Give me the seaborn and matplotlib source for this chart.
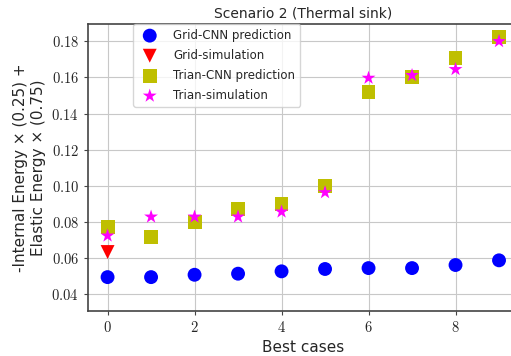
import matplotlib
matplotlib.use("Agg")
import matplotlib.pyplot as plt
import seaborn as sns
from matplotlib.ticker import FuncFormatter

cases = list(range(10))
grid_cnn = [0.0494, 0.0494, 0.0507, 0.0513, 0.0526, 0.0539, 0.0544, 0.0544, 0.0561, 0.0587]
grid_sim_x = [0]
grid_sim = [0.0633]
trian_cnn = [0.0773, 0.0718, 0.0799, 0.0869, 0.0900, 0.0998, 0.1517, 0.1602, 0.1706, 0.1822]
trian_sim = [0.0723, 0.0828, 0.0828, 0.0828, 0.0856, 0.0963, 0.1597, 0.1612, 0.1645, 0.1800]

sns.set_style("whitegrid", {"grid.color": "#c8c8c8", "axes.edgecolor": "#444444"})
plt.rcParams["font.family"] = ["DejaVu Sans"]
plt.rcParams["mathtext.fontset"] = "cm"

fig = plt.figure(figsize=(5.11, 3.56), dpi=100)
ax = fig.add_axes([88/511, 1 - 310.7/356, (518.6 - 88)/511, (310.7 - 24)/356])

sns.scatterplot(x=cases, y=grid_cnn, ax=ax, color="blue", marker="o", s=100,
                edgecolor="none", label="Grid-CNN prediction")
sns.scatterplot(x=grid_sim_x, y=grid_sim, ax=ax, color="red", marker="v", s=100,
                edgecolor="none", label="Grid-simulation")
sns.scatterplot(x=cases, y=trian_cnn, ax=ax, color="#bfbf00", marker="s", s=100,
                edgecolor="none", label="Trian-CNN prediction")
sns.scatterplot(x=cases, y=trian_sim, ax=ax, color="magenta", marker="*", s=110,
                edgecolor="none", label="Trian-simulation")

ax.set_xlim(-0.45, 9.45)
ax.set_ylim(0.0308, 0.1896)
ax.set_xticks([0, 2, 4, 6, 8])
ax.set_yticks([0.04, 0.06, 0.08, 0.10, 0.12, 0.14, 0.16, 0.18])
ax.xaxis.set_major_formatter(FuncFormatter(lambda v, p: r"$%d$" % v))
ax.yaxis.set_major_formatter(FuncFormatter(lambda v, p: r"$%.2f$" % v))
ax.tick_params(axis="both", labelsize=10.5, length=3, color="#444444", left=True, bottom=True)
for sp in ax.spines.values():
    sp.set_linewidth(1.2)

ax.set_xlabel("Best cases", fontsize=11)
ax.set_ylabel("-Internal Energy \u00d7 (0.25) +\nElastic Energy \u00d7 (0.75)", fontsize=11)
ax.set_title("Scenario 2 (Thermal sink)", fontsize=10, pad=5)

leg = ax.legend(loc="upper left", bbox_to_anchor=(0.105, 1.0), borderaxespad=0.0,
                fontsize=8.5, frameon=True, markerscale=1.0, handletextpad=1.0,
                labelspacing=0.6)

fig.savefig("out.png", dpi=100)
